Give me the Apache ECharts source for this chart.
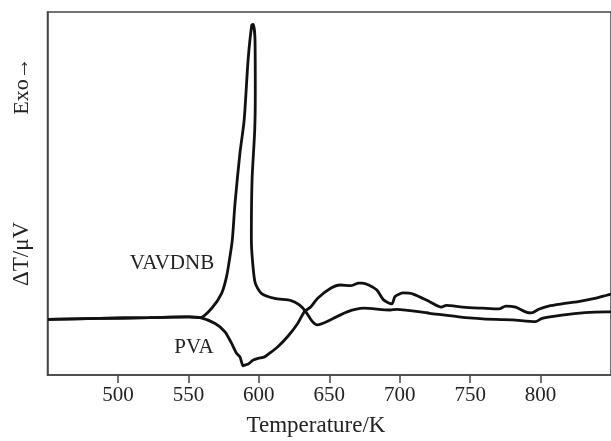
<!DOCTYPE html>
<html>
<head>
<meta charset="utf-8">
<script src="https://cdn.jsdelivr.net/npm/echarts@6/dist/echarts.min.js"></script>
<style>html,body{margin:0;padding:0;background:#fff;}#c{width:611px;height:441px;}</style>
</head>
<body>
<div id="c"></div>
<script>
// Temperature (K) and ΔT (arbitrary units)
const vavdnbT = [450.4, 486.9, 522.1, 550.2, 558.4, 566.6, 573.6, 577.1, 579.5, 581.2, 583.1, 586.6, 589.6, 592.4, 595.0, 596.0, 597.3, 597.5, 597.1, 595.2, 594.7, 595.9, 597.5, 601.8, 611.2, 622.9, 628.8, 633.4, 638.1, 641.6, 651.0, 662.7, 674.5, 693.2, 697.9, 721.3, 744.8, 768.2, 779.9, 796.3, 801.1, 815.1, 831.5, 846.3, 850];
const vavdnbV = [15.3, 15.6, 15.8, 16.0, 15.8, 18.4, 22.5, 27.1, 32.6, 37.2, 47.3, 61.1, 70.2, 86.8, 96.4, 96.6, 92.3, 77.7, 67.5, 53.7, 37.2, 29.8, 25.3, 22.5, 21.1, 20.5, 19.3, 17.4, 14.7, 13.8, 15.2, 17.4, 18.4, 17.9, 18.1, 17.0, 15.9, 15.3, 15.2, 14.7, 15.6, 16.5, 17.2, 17.4, 17.4];
const pvaT = [450.4, 486.9, 522.1, 550.2, 558.4, 569.0, 576.0, 580.7, 584.2, 586.6, 588.9, 590.5, 592.4, 595.9, 599.4, 604.1, 607.7, 613.5, 620.5, 627.6, 632.3, 637.0, 641.6, 651.0, 658.0, 665.0, 671.0, 673.3, 678.0, 683.8, 688.5, 694.4, 696.7, 702.6, 709.6, 721.3, 729.5, 733.1, 744.8, 758.9, 770.5, 775.3, 782.3, 789.3, 793.5, 798.7, 805.7, 815.1, 826.8, 838.5, 846.3, 850];
const pvaV = [15.3, 15.6, 15.8, 16.0, 15.8, 14.2, 11.9, 8.7, 6.0, 5.0, 2.5, 2.8, 3.0, 4.1, 4.6, 5.0, 6.0, 7.8, 10.6, 14.2, 17.4, 18.8, 21.1, 23.9, 24.8, 24.6, 25.3, 25.3, 24.8, 23.4, 20.7, 19.6, 21.6, 22.6, 22.3, 20.2, 18.7, 19.2, 18.7, 18.4, 18.2, 19.0, 18.7, 17.4, 17.1, 18.1, 19.0, 19.6, 20.2, 21.1, 21.9, 22.3];
const xTicks = [450, 500, 550, 600, 650, 700, 750, 800, 850];
const seriesNames = ['VAVDNB', 'PVA'];
const xName = 'Temperature/K';
const yNames = ['Exo→', 'ΔT/μV'];

const serif = "'Liberation Serif','Times New Roman',serif";
const zip = (a, b) => a.map((t, i) => [t, b[i]]);

const chart = echarts.init(document.getElementById('c'), null, {renderer: 'canvas'});
chart.setOption({
  animation: false,
  backgroundColor: '#fff',
  grid: {left: 47.5, top: 12, right: -5, bottom: 66, show: true, borderColor: '#444', borderWidth: 1.5, backgroundColor: 'transparent'},
  xAxis: {
    type: 'value', min: xTicks[0], max: xTicks[xTicks.length - 1], interval: 50,
    axisLine: {show: true, lineStyle: {color: '#444', width: 1.5}},
    axisTick: {show: true, inside: false, length: 8, lineStyle: {color: '#444', width: 1.5}},
    axisLabel: {showMinLabel: false, showMaxLabel: false, fontFamily: serif, fontSize: 21, color: '#222', margin: 10},
    splitLine: {show: false}
  },
  yAxis: {
    type: 'value', min: 0, max: 100,
    axisLine: {show: true, lineStyle: {color: '#444', width: 1.5}},
    axisTick: {show: false}, axisLabel: {show: false}, splitLine: {show: false}
  },
  series: [
    {name: seriesNames[0], type: 'line', data: zip(vavdnbT, vavdnbV), showSymbol: false, smooth: 0.25,
     lineStyle: {color: '#111', width: 2.8}},
    {name: seriesNames[1], type: 'line', data: zip(pvaT, pvaV), showSymbol: false, smooth: 0.25,
     lineStyle: {color: '#111', width: 2.8}}
  ],
  graphic: [
    {type: 'text', x: 316, y: 426, style: {text: xName, font: '23px ' + serif, fill: '#222', align: 'center', verticalAlign: 'middle'}},
    {type: 'text', x: 22, y: 86, rotation: Math.PI / 2, style: {text: yNames[0], font: '22px ' + serif, fill: '#222', align: 'center', verticalAlign: 'middle'}},
    {type: 'text', x: 22, y: 254, rotation: Math.PI / 2, style: {text: yNames[1], font: '23px ' + serif, fill: '#222', align: 'center', verticalAlign: 'middle'}},
    {type: 'text', x: 172, y: 263, style: {text: seriesNames[0], font: '21px ' + serif, fill: '#222', align: 'center', verticalAlign: 'middle'}},
    {type: 'text', x: 194, y: 347, style: {text: seriesNames[1], font: '21px ' + serif, fill: '#222', align: 'center', verticalAlign: 'middle'}}
  ]
});
</script>
</body>
</html>
